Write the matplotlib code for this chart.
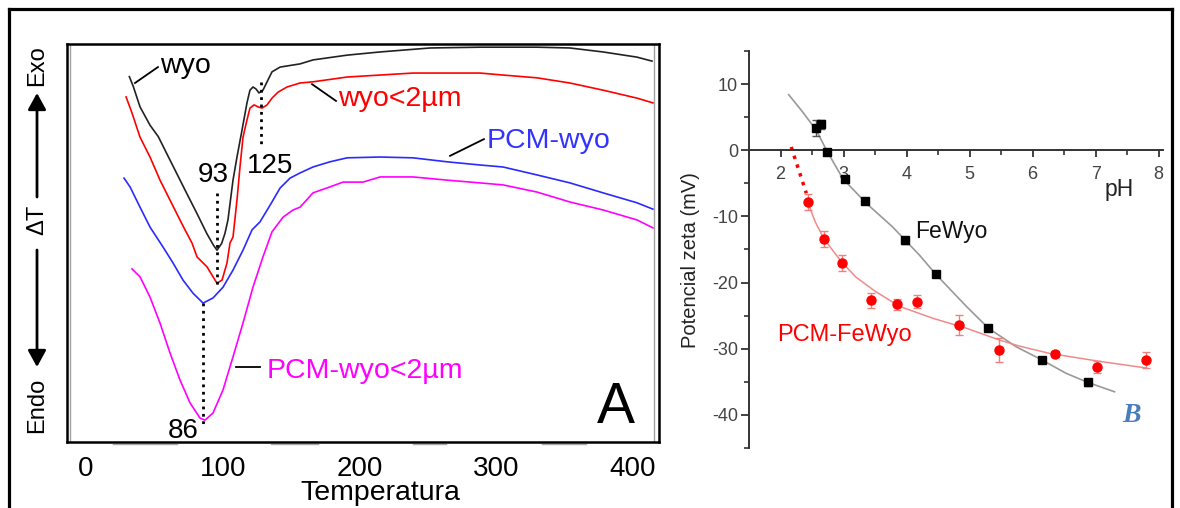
import matplotlib
matplotlib.use('Agg')
import matplotlib.pyplot as plt
from matplotlib.lines import Line2D
from matplotlib.patches import FancyArrowPatch
from matplotlib.ticker import MultipleLocator
import matplotlib.transforms as mtransforms

plt.rcParams['font.family'] = ['Liberation Sans', 'DejaVu Sans']
plt.rcParams['axes.unicode_minus'] = False

# ---- panel A: DTA curves (temperature in C, delta T in arbitrary units) ----
wyo_T = [31.7, 34.6, 39.5, 46.8, 52.9, 59.0, 66.3, 73.6, 81.0, 88.3, 93.1, 95.8,
         99.2, 101.6, 103.8, 107.5, 110.4, 114.1, 117.7, 119.9, 122.1, 124.3, 126.5,
         129.4, 132.4, 136.0, 141.9, 156.5, 166.0, 190.9, 215.0, 251.6, 288.1, 304.9,
         329.8, 353.9, 378.1, 402.9, 413.9]
wyo_dT = [91.8, 89.3, 84.2, 79.6, 76.7, 72.5, 67.5, 62.5, 57.5, 52.4, 49.5, 48.2,
          49.9, 52.4, 55.8, 65.8, 71.6, 78.4, 85.2, 88.4, 89.2, 88.7, 87.7,
          88.4, 90.5, 93.0, 94.2, 95.0, 96.0, 97.2, 98.0, 99.0, 99.2, 99.2,
          99.2, 99.0, 98.0, 96.7, 95.7]

wyo2_T = [29.3, 33.6, 39.5, 46.8, 54.1, 61.4, 68.7, 72.4, 77.5, 81.2, 88.5, 92.9, 95.8,
          99.5, 103.1, 105.3, 107.5, 110.4, 112.6, 114.8, 117.7, 119.9, 122.9, 125.8,
          128.7, 132.4, 136.0, 140.4, 147.0, 156.5, 166.0, 190.9, 215.0, 239.1, 264.0,
          288.1, 304.9, 329.8, 353.9, 378.1, 402.9, 414.6]
wyo2_dT = [86.7, 82.7, 76.6, 71.6, 65.8, 60.8, 55.8, 53.3, 50.0, 46.5, 44.0, 41.5, 39.9,
           40.7, 45.0, 50.0, 51.5, 60.8, 69.1, 76.6, 80.9, 83.9, 84.7, 84.2,
           83.9, 84.7, 86.4, 87.9, 89.2, 90.2, 90.5, 91.7, 92.2, 92.7, 92.7,
           92.7, 92.2, 91.5, 90.2, 88.4, 86.4, 85.2]

pcm_T = [27.8, 32.2, 39.5, 46.8, 56.3, 63.6, 70.9, 78.2, 85.6, 92.9, 100.2, 107.5,
         114.8, 121.4, 127.2, 134.6, 141.9, 149.2, 156.5, 166.0, 178.4, 190.9, 215.0,
         239.1, 264.0, 288.1, 304.9, 329.8, 353.9, 378.1, 402.9, 414.6]
pcm_dT = [66.3, 64.1, 59.0, 54.0, 49.0, 45.0, 40.7, 37.4, 34.9, 36.2, 38.9, 43.2,
          48.2, 53.3, 55.3, 59.5, 63.8, 66.3, 67.6, 69.1, 70.4, 71.4, 71.6,
          71.4, 70.4, 69.6, 69.1, 67.1, 65.1, 62.6, 60.1, 58.5]

pcm2_T = [33.6, 39.5, 46.8, 54.1, 61.4, 68.7, 76.1, 83.4, 87.0, 92.9, 100.2, 107.5,
          114.8, 122.1, 129.4, 136.0, 144.1, 151.4, 156.5, 166.0, 178.4, 187.9, 202.6,
          215.0, 239.1, 264.0, 288.1, 304.9, 329.8, 353.9, 378.1, 402.9, 414.6]
pcm2_dT = [43.5, 41.5, 36.4, 29.9, 22.4, 15.6, 9.8, 6.0, 5.5, 7.3, 13.1, 21.4,
           29.9, 38.9, 46.5, 52.8, 56.5, 58.3, 59.0, 62.6, 64.1, 65.3, 65.3,
           66.6, 66.6, 65.8, 65.1, 64.6, 62.8, 60.3, 58.3, 55.8, 53.8]

temp_ticks = [0, 100, 200, 300, 400]

# ---- panel B: zeta potential vs pH ----
fe_pH = [2.57, 2.65, 2.73, 3.02, 3.34, 3.98, 4.46, 5.30, 6.15, 6.88]
fe_zeta = [3.4, 3.9, -0.3, -4.4, -7.6, -13.6, -18.7, -26.9, -31.7, -35.1]
fe_err = [1.2, 0.7, 0.4, 0.4, 0.4, 0.5, 0.5, 0.4, 0.5, 0.5]
fe_fit_pH = [2.13, 2.35, 2.57, 2.73, 2.99, 3.36, 3.78, 3.98, 4.21, 4.46, 4.95,
             5.30, 5.74, 6.15, 6.53, 6.88, 7.30]
fe_fit_zeta = [8.4, 5.8, 3.0, 0.0, -4.3, -8.0, -11.6, -13.6, -15.9, -18.7, -23.6,
               -26.9, -29.7, -31.7, -33.7, -35.1, -36.5]

pcm_pH = [2.43, 2.69, 2.98, 3.43, 3.85, 4.16, 4.84, 5.46, 6.36, 7.02, 7.80]
pcm_zeta = [-7.8, -13.4, -17.0, -22.7, -23.3, -22.9, -26.4, -30.2, -30.8, -32.7, -31.7]
pcm_err = [1.2, 1.2, 1.2, 1.2, 0.8, 1.0, 1.5, 1.8, 0.5, 0.9, 1.2]
pcm_fit_pH = [2.43, 2.55, 2.69, 2.85, 2.98, 3.2, 3.5, 3.89, 4.42, 4.95, 5.48,
              5.79, 6.27, 7.06, 7.80]
pcm_fit_zeta = [-7.8, -10.8, -13.4, -15.4, -17.0, -19.2, -21.3, -23.6, -25.4, -26.9,
                -28.7, -29.6, -30.7, -31.9, -32.9]
pcm_extrap_pH = [2.17, 2.41]
pcm_extrap_zeta = [0.5, -6.5]

fig = plt.figure(figsize=(11.8, 5.08), dpi=100)

# outer frame
for xs, ys in [([9, 1172], [9, 9]), ([9, 9], [9, 520]), ([1172, 1172], [9, 520])]:
    fig.add_artist(Line2D([x / 1180 for x in xs], [1 - y / 508 for y in ys],
                          color='k', lw=2.3, transform=fig.transFigure))

# ---------------- panel A ----------------
axA = fig.add_axes([67 / 1180, 66 / 508, 592 / 1180, 398 / 508])
axA.plot(wyo_T, wyo_dT, color='#222222', lw=1.2)
axA.plot(wyo2_T, wyo2_dT, color='#ff0000', lw=1.2)
axA.plot(pcm_T, pcm_dT, color='#2a2aff', lw=1.2)
axA.plot(pcm2_T, pcm2_dT, color='#ff00ff', lw=1.2)
axA.set_xlim(-13.9, 419)
axA.set_ylim(0, 100)
axA.set_xticks(temp_ticks)
axA.set_yticks([])
axA.tick_params(axis='x', length=0, pad=10, labelsize=20)
for s in axA.spines.values():
    s.set_linewidth(1.8)
axA.axvline(-11.7, color='#a0a0a0', lw=1)
axA.axvline(415.4, color='#a0a0a0', lw=1)
trans = mtransforms.blended_transform_factory(axA.transData, axA.transAxes)
for a, b in [(19.7, 66.5), (135.3, 169.7), (239.1, 263.3), (333.5, 365.6)]:
    axA.plot([a, b], [-0.006, -0.006], color='#aaaaaa', lw=1, transform=trans, clip_on=False)

axA.set_xlabel('Temperatura', fontsize=20.5)
axA.xaxis.label.set_va('baseline')
axA.xaxis.set_label_coords(0.530, -0.146)

# peak markers
axA.plot([95.8, 95.8], [62.6, 39.4], color='k', ls=':', lw=2)
axA.plot([128.0, 128.0], [90.5, 73.9], color='k', ls=':', lw=2)
axA.plot([85.6, 85.6], [34.9, 3.8], color='k', ls=':', lw=2)

# labels with leader lines
axA.plot([35.8, 52.6], [90.2, 94.2], color='k', lw=1.3)
axA.plot([165.3, 182.8], [89.9, 85.7], color='k', lw=1.3)
axA.plot([266.2, 291.0], [71.9, 76.1], color='k', lw=1.3)
axA.plot([109.7, 127.2], [18.8, 18.8], color='k', lw=1.3)
axA.text(54.1, 92.7, 'wyo', fontsize=20.5, color='k', va='baseline')
axA.text(184.3, 84.4, 'wyo<2µm', fontsize=20.5, color='#ff0000', va='baseline')
axA.text(293.2, 73.9, 'PCM-wyo', fontsize=20.5, color='#3333ff', va='baseline')
axA.text(132.4, 16.1, 'PCM-wyo<2µm', fontsize=20.5, color='#ff00ff', va='baseline')
axA.text(81.9, 65.3, '93', fontsize=20, va='baseline')
axA.text(117.7, 67.6, '125', fontsize=20, va='baseline')
axA.text(60.0, 1.0, '86', fontsize=20, va='baseline')
axA.text(373.7, 4.8, 'A', fontsize=41, va='baseline')

# Exo / dT / Endo
fig.text(37 / 1180, 1 - 66 / 508, 'Exo', rotation=90, fontsize=17, ha='center', va='center')
fig.text(37 / 1180, 1 - 220 / 508, 'ΔT', rotation=90, fontsize=17, ha='center', va='center')
fig.text(37 / 1180, 1 - 405 / 508, 'Endo', rotation=90, fontsize=17, ha='center', va='center')
for y0, y1 in [(197, 93), (250, 367)]:
    fig.add_artist(FancyArrowPatch((37 / 1180, 1 - y0 / 508), (37 / 1180, 1 - y1 / 508),
                                   transform=fig.transFigure, arrowstyle='-|>,head_length=1.0,head_width=0.55',
                                   mutation_scale=10, lw=2, color='k', shrinkA=0, shrinkB=0))

# ---------------- panel B ----------------
axB = fig.add_axes([749 / 1180, 60 / 508, 414 / 1180, 397 / 508])
axB.plot(fe_fit_pH, fe_fit_zeta, color='#999999', lw=1.2, zorder=2)
axB.plot(pcm_fit_pH, pcm_fit_zeta, color='#f08a8a', lw=1.1, zorder=2)
axB.plot(pcm_extrap_pH, pcm_extrap_zeta, color='#ff0000', ls=':', lw=2.5, zorder=2)
axB.errorbar(fe_pH, fe_zeta, yerr=fe_err, fmt='s', color='k', ms=5.5, ecolor='#555555',
             elinewidth=1, capsize=3, zorder=3)
axB.errorbar(pcm_pH, pcm_zeta, yerr=pcm_err, fmt='o', color='#ff0000', ms=6.5,
             ecolor='#f08080', elinewidth=1, capsize=3, zorder=3)
axB.set_xlim(1.5, 8.07)
axB.set_ylim(-45, 15)
axB.spines['top'].set_visible(False)
axB.spines['right'].set_visible(False)
axB.spines['bottom'].set_position(('data', 0))
for s in ('left', 'bottom'):
    axB.spines[s].set_color('#333333')
    axB.spines[s].set_linewidth(1.4)
axB.set_xticks(range(2, 9))
axB.set_yticks([-40, -30, -20, -10, 0, 10])
axB.xaxis.set_minor_locator(MultipleLocator(0.5))
axB.yaxis.set_minor_locator(MultipleLocator(5))
axB.tick_params(which='major', length=6, width=1.3, color='#333333', labelcolor='#444444',
                labelsize=13)
axB.tick_params(which='minor', length=3.5, width=1.2, color='#333333')
axB.tick_params(axis='x', which='major', length=5, pad=6)
axB.tick_params(axis='y', which='major', pad=2)
axB.set_ylabel('Potencial zeta (mV)', fontsize=14.5, color='#222222')
axB.yaxis.set_label_coords(-0.118, 0.474)

axB.text(7.14, -6.97, 'pH', fontsize=16.5, va='baseline', color='#222222')
axB.text(4.13, -13.3, 'FeWyo', fontsize=16.5, va='baseline', color='#111111')
axB.text(1.94, -28.8, 'PCM-FeWyo', fontsize=17, va='baseline', color='#ff0000')
axB.text(7.42, -41.1, 'B', fontsize=20, va='baseline', color='#4a7ebb',
         family='Liberation Serif', fontweight='bold', fontstyle='italic')

fig.savefig('out.png', dpi=100)
